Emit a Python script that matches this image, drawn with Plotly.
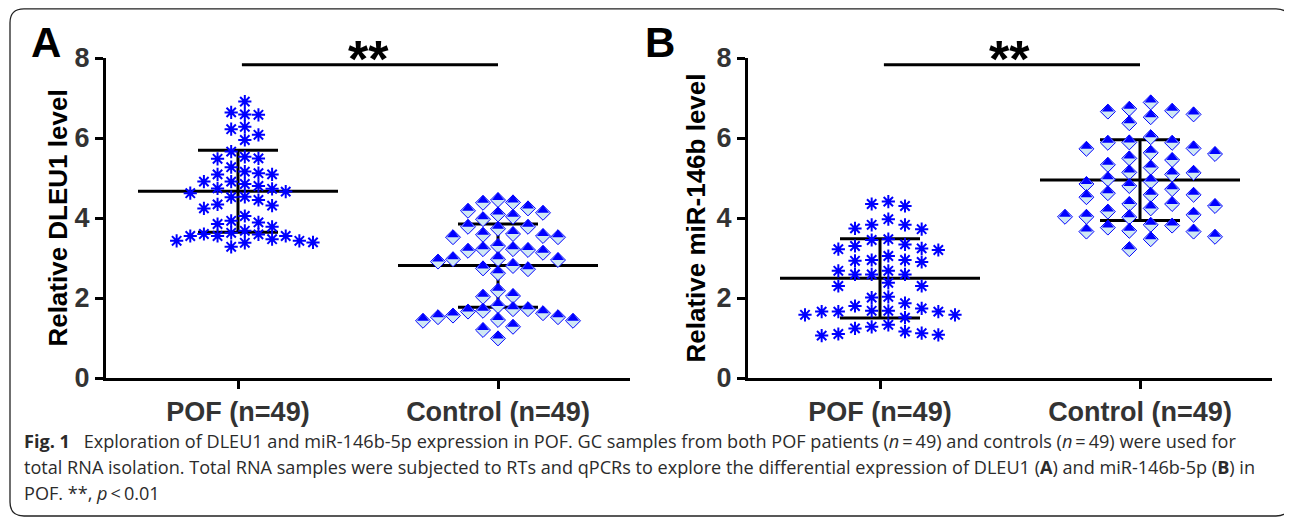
import numpy as np
import plotly.graph_objects as go

# ---------------- data ----------------
categories = ["POF (n=49)", "Control (n=49)"]
y_ticks = [0, 2, 4, 6, 8]

dleu1_pof = [6.91, 6.64, 6.59, 6.58, 6.28, 6.22, 6.08, 5.95, 5.66, 5.53,
             5.49, 5.48, 5.27, 5.16, 5.12, 5.09, 5.09, 4.91, 4.91, 4.85,
             4.80, 4.74, 4.73, 4.66, 4.62, 4.53, 4.52, 4.45, 4.34, 4.31,
             4.24, 4.05, 3.93, 3.89, 3.85, 3.78, 3.68, 3.63, 3.60, 3.59,
             3.55, 3.55, 3.55, 3.47, 3.43, 3.43, 3.39, 3.38, 3.28]
dleu1_control = [4.45, 4.39, 4.38, 4.24, 4.18, 4.13, 4.09, 4.03, 3.97, 3.78,
                 3.78, 3.73, 3.60, 3.58, 3.55, 3.52, 3.52, 3.30, 3.22, 3.22,
                 3.20, 3.18, 3.13, 2.97, 2.97, 2.95, 2.91, 2.80, 2.74, 2.72,
                 2.62, 2.18, 2.05, 2.03, 1.80, 1.72, 1.72, 1.68, 1.66, 1.62,
                 1.56, 1.52, 1.52, 1.45, 1.43, 1.43, 1.28, 1.20, 0.99]
mir146b_pof = [4.41, 4.35, 4.30, 3.97, 3.83, 3.83, 3.74, 3.72, 3.47, 3.45,
               3.34, 3.30, 3.24, 3.22, 3.20, 3.05, 2.95, 2.95, 2.93, 2.90,
               2.68, 2.68, 2.59, 2.59, 2.59, 2.38, 2.30, 2.30, 2.03, 2.01,
               1.87, 1.80, 1.74, 1.68, 1.68, 1.66, 1.66, 1.66, 1.58, 1.58,
               1.51, 1.33, 1.28, 1.24, 1.16, 1.12, 1.10, 1.08, 1.06]
mir146b_control = [6.89, 6.73, 6.68, 6.66, 6.59, 6.52, 6.37, 6.02, 5.89, 5.88,
                   5.88, 5.74, 5.73, 5.63, 5.60, 5.49, 5.45, 5.33, 5.26, 5.14,
                   5.13, 5.09, 4.97, 4.91, 4.85, 4.80, 4.72, 4.62, 4.58, 4.58,
                   4.52, 4.35, 4.35, 4.30, 4.24, 4.16, 4.08, 4.03, 4.03, 4.02,
                   3.83, 3.81, 3.76, 3.68, 3.66, 3.66, 3.53, 3.47, 3.22]

# ---------------- layout constants ----------------
OFF = 8                       # default page body margin
W, H = 1292 - OFF, 519 - OFF  # figure size so that it fills the window
PX_PER_Y = 40.0      # pixels per y unit
PX_PER_X = 260.0     # pixels between the two groups
SWARM_HALF_PX = 75.0
BLUE = "#0000ff"
LIGHT = "#cfe8f3"
FONT = "Liberation Sans"


def px(xp):
    """window x pixel -> paper fraction"""
    return (xp - OFF) / W


def py(yp):
    """window y pixel -> paper fraction"""
    return 1 - (yp - OFF) / H


def swarm_columns(values, gap_px, odd):
    vals = np.asarray(values, dtype=float)
    order = np.argsort(-vals, kind="stable")
    if odd:
        cand = [0] + [s * j for j in range(1, 40) for s in (1, -1)]
    else:
        cand = [s * (j - 0.5) for j in range(1, 40) for s in (1, -1)]
    cols = np.zeros(len(vals))
    placed = {}
    for i in order:
        y = vals[i] * PX_PER_Y
        for c in cand:
            if all(abs(y - p) >= gap_px for p in placed.get(c, [])):
                placed.setdefault(c, []).append(y)
                cols[i] = c
                break
    return cols


def swarm_x(values, center, gap_px, odd):
    cols = swarm_columns(values, gap_px, odd)
    maxc = np.max(np.abs(cols))
    step = SWARM_HALF_PX / maxc if maxc > 0 else 0
    return center + cols * step / PX_PER_X


fig = go.Figure()


def add_summary(values, center, xa, ya):
    v = np.asarray(values, dtype=float)
    m = v.mean()
    sd = v.std(ddof=1)
    half = 100.0 / PX_PER_X
    fig.add_trace(go.Scatter(x=[center - half, center + half], y=[m, m], mode="lines",
                             line=dict(color="black", width=3), xaxis=xa, yaxis=ya,
                             hoverinfo="skip", cliponaxis=False))
    fig.add_trace(go.Scatter(x=[center], y=[m], mode="markers",
                             marker=dict(size=1, color="rgba(0,0,0,0)"),
                             error_y=dict(type="data", array=[sd], visible=True,
                                          color="black", thickness=3, width=40),
                             xaxis=xa, yaxis=ya, hoverinfo="skip", cliponaxis=False))


def add_asterisks(values, center, xa, ya, gap_px, odd):
    xs = swarm_x(values, center, gap_px, odd)
    fig.add_trace(go.Scatter(x=xs, y=values, mode="markers", xaxis=xa, yaxis=ya,
                             cliponaxis=False,
                             marker=dict(symbol="asterisk-open", size=11,
                                         line=dict(color=BLUE, width=2), color=BLUE)))


def add_diamonds(values, center, xa, ya, gap_px, odd):
    xs = swarm_x(values, center, gap_px, odd)
    fig.add_trace(go.Scatter(x=xs, y=values, mode="markers", xaxis=xa, yaxis=ya,
                             cliponaxis=False,
                             marker=dict(symbol="diamond", size=11.5, color=LIGHT,
                                         line=dict(color=BLUE, width=1))))
    tsize = 10.4
    fig.add_trace(go.Scatter(x=xs, y=values, mode="markers", xaxis=xa, yaxis=ya,
                             cliponaxis=False,
                             marker=dict(symbol="triangle-down", size=tsize, color=BLUE,
                                         angle=180, standoff=tsize / 4,
                                         line=dict(width=0))))


# Panel A
add_summary(dleu1_pof, 1, "x", "y")
add_summary(dleu1_control, 2, "x", "y")
add_asterisks(dleu1_pof, 1, "x", "y", 12, False)
add_diamonds(dleu1_control, 2, "x", "y", 13, True)
# Panel B
add_summary(mir146b_pof, 1, "x2", "y2")
add_summary(mir146b_control, 2, "x2", "y2")
add_asterisks(mir146b_pof, 1, "x2", "y2", 12, False)
add_diamonds(mir146b_control, 2, "x2", "y2", 13, False)

xr = [1 - 132 / PX_PER_X, 2 + 132 / PX_PER_X]
ydom = [py(378), py(58)]

axis_common_x = dict(range=xr, tickvals=[1, 2], ticktext=categories, showline=True,
                     linewidth=3, linecolor="black", ticks="outside", ticklen=8,
                     tickwidth=3, tickcolor="black", showgrid=False, zeroline=False,
                     automargin=False, fixedrange=True,
                     tickfont=dict(family=FONT, size=27, color="#333333", weight="bold"))
axis_common_y = dict(range=[0, 8], tickvals=y_ticks, showline=True, linewidth=3,
                     linecolor="black", ticks="outside", ticklen=8, tickwidth=3,
                     tickcolor="black", showgrid=False, zeroline=False, domain=ydom,
                     automargin=False, fixedrange=True,
                     tickfont=dict(family=FONT, size=27, color="#333333", weight="bold"))

fig.update_layout(
    width=W, height=H, margin=dict(l=0, r=0, t=0, b=0, pad=0, autoexpand=False),
    paper_bgcolor="white", plot_bgcolor="white", showlegend=False,
    xaxis=dict(domain=[px(106), px(630)], anchor="y", **axis_common_x),
    yaxis=dict(anchor="x", title=dict(text="Relative DLEU1 level", standoff=0,
                                      font=dict(family=FONT, size=26, color="black",
                                                weight="bold")), **axis_common_y),
    xaxis2=dict(domain=[px(748), px(1272)], anchor="y2", **axis_common_x),
    yaxis2=dict(anchor="x2", title=dict(text="Relative miR-146b level", standoff=4,
                                        font=dict(family=FONT, size=26, color="black",
                                                  weight="bold")), **axis_common_y),
)

# significance bars
for xa, ya in [("x", "y"), ("x2", "y2")]:
    fig.add_shape(type="line", xref=xa, yref=ya, x0=1.015, x1=2, y0=7.83, y1=7.83,
                  line=dict(color="black", width=3))
    fig.add_annotation(xref=xa, yref=ya, x=1.5, y=7.83, text="**", showarrow=False,
                       yanchor="bottom", yshift=-25,
                       font=dict(family=FONT, size=52, color="black", weight="bold"))

# panel letters
for lx, lt in [(46, "A"), (660, "B")]:
    fig.add_annotation(xref="paper", yref="paper", x=px(lx), y=py(42), text=lt,
                       showarrow=False, xanchor="center", yanchor="middle",
                       font=dict(family=FONT, size=42, color="black", weight="bold"))

# caption
cap_font = dict(family="Open Sans", size=18.1, color="#2b2b2b")
caption = [
    "<b>Fig. 1</b>\u2002 Exploration of DLEU1 and miR-146b-5p expression in POF. GC samples "
    "from both POF patients (<i>n</i>\u2009=\u200949) and controls (<i>n</i>\u2009=\u200949) were used for",
    "total RNA isolation. Total RNA samples were subjected to RTs and qPCRs to explore the "
    "differential expression of DLEU1 (<b>A</b>) and miR-146b-5p (<b>B</b>) in",
    "POF. **, <i>p</i>\u2009<\u20090.01",
]
for i, line in enumerate(caption):
    fig.add_annotation(xref="paper", yref="paper", x=px(22), y=py(441 + 26 * i),
                       text=line, showarrow=False, xanchor="left", yanchor="middle",
                       align="left", font=cap_font)

# rounded border
x0, x1, y0, y1, r = px(10), px(1290), py(8.8), py(516), 14
rx, ry = r / W, r / H
path = (f"M{x0 + rx},{y0} L{x1 - rx},{y0} Q{x1},{y0} {x1},{y0 - ry} "
        f"L{x1},{y1 + ry} Q{x1},{y1} {x1 - rx},{y1} L{x0 + rx},{y1} "
        f"Q{x0},{y1} {x0},{y1 + ry} L{x0},{y0 - ry} Q{x0},{y0} {x0 + rx},{y0} Z")
fig.add_shape(type="path", xref="paper", yref="paper", path=path,
              line=dict(color="#222222", width=1.3))

fig.write_html("out.html")
